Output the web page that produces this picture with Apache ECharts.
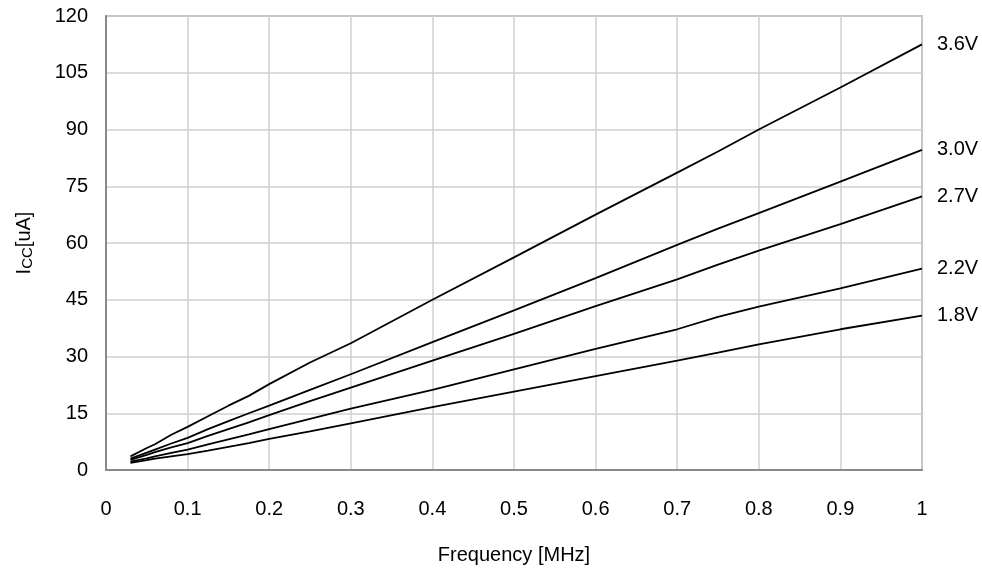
<!DOCTYPE html>
<html>
<head>
<meta charset="utf-8">
<script src="https://cdn.jsdelivr.net/npm/echarts@6/dist/echarts.min.js"></script>
<style>
html,body{margin:0;padding:0;background:#fff;}
#chart{width:982px;height:577px;}
</style>
</head>
<body>
<div id="chart"></div>
<script>
var freq = [0.03, 0.05, 0.06, 0.08, 0.1, 0.125, 0.15, 0.175, 0.2, 0.25, 0.3, 0.4, 0.5, 0.6, 0.7, 0.75, 0.8, 0.9, 1.0];
var seriesNames = ['3.6V', '3.0V', '2.7V', '2.2V', '1.8V'];
var v36 = [3.6, 5.8, 6.8, 9.3, 11.4, 14.2, 17.0, 19.6, 22.7, 28.4, 33.5, 45.0, 56.2, 67.5, 78.6, 84.2, 90.0, 101.1, 112.5];
var v30 = [3.0, 4.6, 5.4, 7.0, 8.5, 10.8, 12.9, 15.0, 17.0, 21.2, 25.3, 33.8, 42.2, 50.7, 59.5, 63.8, 67.9, 76.2, 84.6];
var v27 = [2.7, 4.0, 4.7, 6.0, 7.1, 9.0, 10.8, 12.6, 14.5, 18.2, 21.8, 28.9, 36.0, 43.3, 50.4, 54.3, 58.0, 65.0, 72.3];
var v22 = [2.2, 3.1, 3.6, 4.5, 5.4, 6.8, 8.1, 9.4, 10.8, 13.5, 16.2, 21.2, 26.6, 32.0, 37.2, 40.5, 43.2, 48.0, 53.2];
var v18 = [1.9, 2.6, 3.0, 3.6, 4.2, 5.1, 6.1, 7.1, 8.2, 10.2, 12.3, 16.6, 20.7, 24.8, 28.9, 31.0, 33.2, 37.2, 40.8];
var allValues = [v36, v30, v27, v22, v18];
var xTicks = [0, 0.1, 0.2, 0.3, 0.4, 0.5, 0.6, 0.7, 0.8, 0.9, 1];
var yTicks = [0, 15, 30, 45, 60, 75, 90, 105, 120];

var FONT = 'Liberation Sans, Arial, sans-serif';
var chart = echarts.init(document.getElementById('chart'));
var series = seriesNames.map(function (name, i) {
  return {
    name: name,
    type: 'line',
    showSymbol: false,
    symbol: 'none',
    lineStyle: { color: '#000', width: 1.8 },
    data: freq.map(function (f, j) { return [f, allValues[i][j]]; }),
    endLabel: {
      show: true,
      formatter: '{a}',
      distance: 15,
      color: '#000',
      fontFamily: FONT,
      fontSize: 20
    },
    animation: false
  };
});

chart.setOption({
  backgroundColor: '#fff',
  animation: false,
  grid: {
    left: 106, right: 60, top: 16, bottom: 107,
    show: true, borderColor: '#8a8a8a', borderWidth: 1.5
  },
  xAxis: {
    type: 'value',
    min: 0, max: 1, interval: 0.1,
    name: 'Frequency [MHz]',
    nameLocation: 'middle',
    nameGap: 75,
    nameTextStyle: { fontFamily: FONT, fontSize: 20, color: '#000' },
    axisLine: { show: true, lineStyle: { color: '#8a8a8a', width: 2 } },
    axisTick: { show: false },
    axisLabel: {
      margin: 29, fontFamily: FONT, fontSize: 20, color: '#000',
      formatter: function (v) { return xTicks.indexOf(Math.round(v * 10) / 10) >= 0 ? String(Math.round(v * 10) / 10) : ''; }
    },
    splitLine: { show: true, lineStyle: { color: '#d0d0d0', width: 1.5 } }
  },
  yAxis: {
    type: 'value',
    min: 0, max: 120, interval: 15,
    name: 'I{sub|CC}[uA]',
    nameLocation: 'middle',
    nameRotate: 90,
    nameGap: 71,
    nameTextStyle: {
      fontFamily: FONT, fontSize: 20, color: '#000',
      rich: { sub: { fontFamily: FONT, fontSize: 15, color: '#000', padding: [6, 0, 0, 0] } }
    },
    axisLine: { show: true, lineStyle: { color: '#8a8a8a', width: 2 } },
    axisTick: { show: false },
    axisLabel: {
      margin: 18, fontFamily: FONT, fontSize: 20, color: '#000',
      formatter: function (v) { return yTicks.indexOf(v) >= 0 ? String(v) : ''; }
    },
    splitLine: { show: true, lineStyle: { color: '#d0d0d0', width: 1.5 } }
  },
  series: series
});
</script>
</body>
</html>
